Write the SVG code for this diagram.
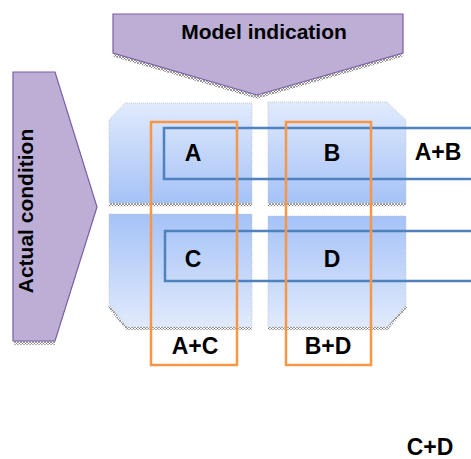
<svg xmlns="http://www.w3.org/2000/svg" width="471" height="459" viewBox="0 0 471 459">
<defs>
<linearGradient id="gDown" x1="0" y1="0" x2="0" y2="1">
<stop offset="0" stop-color="#e0eafc"/>
<stop offset="1" stop-color="#a5c2f7"/>
</linearGradient>
<linearGradient id="gUp" x1="0" y1="0" x2="0" y2="1">
<stop offset="0" stop-color="#a5c2f7"/>
<stop offset="1" stop-color="#e0eafc"/>
</linearGradient>
<pattern id="hatch" patternUnits="userSpaceOnUse" width="3" height="3">
<rect width="3" height="3" fill="#ffffff"/>
<path d="M0,0 L3,3 M3,0 L0,3" stroke="#6e6e6e" stroke-width="0.7"/>
</pattern>
<style>
.arrow{fill:#bcaed5;stroke:#7b5ea3;stroke-width:1.2}
.quad{stroke:#c4c4c4;stroke-width:0.8;stroke-dasharray:1 1}
.hatch{fill:none;stroke:url(#hatch);stroke-width:3.5}
.blue{fill:none;stroke:#4f81bd;stroke-width:2.5}
.orange{fill:none;stroke:#f79646;stroke-width:2.5}
.lbl{font-family:"Liberation Sans",Arial,sans-serif;font-weight:bold;fill:#000;text-anchor:middle}
.big{font-size:23px}
.title{font-size:21px}
</style>
</defs>

<g id="model-indication">
<path class="hatch" d="M114,55 L257,97 L402,55"/>
<path class="arrow" d="M113,14 L403,14 L403,53 L257,95 L113,53 Z"/>
<text class="lbl title" x="264" y="39">Model indication</text>
</g>

<g id="actual-condition">
<path class="hatch" d="M14,343 L55,343"/>
<path class="arrow" d="M13,72 L55,72 L97,207 L55,341 L13,341 Z"/>
<text class="lbl title" transform="translate(33,211) rotate(-90)">Actual condition</text>
</g>

<g id="quad-A">
<path class="hatch" d="M109,204.5 L252,204.5"/>
<path class="quad" fill="url(#gDown)" d="M125,103 L252,103 L252,203 L109,203 L109,120 Z"/>
</g>
<g id="quad-B">
<path class="hatch" d="M268,204.5 L406,204.5"/>
<path class="quad" fill="url(#gDown)" d="M268,102 L387,102 L406,120 L406,203 L268,203 Z"/>
</g>
<g id="quad-C">
<path class="hatch" d="M109,306 L127,328 L252,328"/>
<path class="quad" fill="url(#gUp)" d="M109,214 L252,214 L252,327 L127,327 L109,305 Z"/>
</g>
<g id="quad-D">
<path class="hatch" d="M268,328 L387,328 L406,306"/>
<path class="quad" fill="url(#gUp)" d="M268,216 L406,216 L406,305 L387,327 L268,327 Z"/>
</g>

<g id="connectors">
<rect id="group-AB" class="blue" x="164" y="128" width="320" height="51"/>
<rect id="group-CD" class="blue" x="165" y="231" width="320" height="50"/>
<rect id="group-AC" class="orange" x="151" y="122" width="86" height="243"/>
<rect id="group-BD" class="orange" x="286" y="122" width="85" height="243"/>
</g>

<g id="labels">
<text class="lbl big" x="193" y="161">A</text>
<text class="lbl big" x="332" y="161">B</text>
<text class="lbl big" x="438" y="160">A+B</text>
<text class="lbl big" x="193" y="267">C</text>
<text class="lbl big" x="332" y="267">D</text>
<text class="lbl big" x="195" y="354">A+C</text>
<text class="lbl big" x="328" y="354">B+D</text>
<text class="lbl big" x="430" y="455">C+D</text>
</g>
</svg>
